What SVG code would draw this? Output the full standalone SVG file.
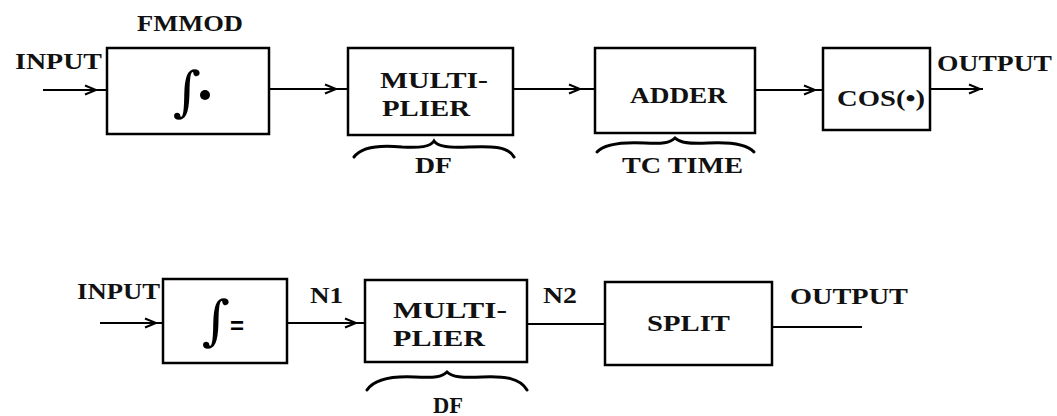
<svg xmlns="http://www.w3.org/2000/svg" width="1057" height="416" viewBox="0 0 1057 416">
<defs>
<marker id="arr" markerUnits="userSpaceOnUse" markerWidth="14" markerHeight="12" refX="12" refY="6" orient="auto">
<path d="M1,1.5 L12,6 L1,10.5" fill="none" stroke="#000" stroke-width="2"/>
</marker>
<style>
.box{fill:#fff;stroke:#000;stroke-width:2.5}
.t{font-family:"Liberation Serif","Times New Roman",serif;font-size:24px;fill:#111;font-weight:bold}
.c{fill:none;stroke:#000;stroke-width:2}
.br{fill:none;stroke:#000;stroke-width:3;stroke-linecap:round}
.ig{font-family:"DejaVu Serif",serif;font-size:54px;fill:#000}
</style>
</defs>
<rect width="1057" height="416" fill="#fff"/>

<g id="connectors">
<path class="c" d="M43,90 H96 H107" marker-mid="url(#arr)"/>
<path class="c" d="M269,89 H336 H348" marker-mid="url(#arr)"/>
<path class="c" d="M513,89 H580 H595" marker-mid="url(#arr)"/>
<path class="c" d="M755,90 H815 H823" marker-mid="url(#arr)"/>
<path class="c" d="M930,89 H980 H983" marker-mid="url(#arr)"/>
<path class="c" d="M100,323 H156 H163" marker-mid="url(#arr)"/>
<path class="c" d="M287,323 H356 H366" marker-mid="url(#arr)"/>
<path class="c" d="M527,324 H605"/>
<path class="c" d="M772,327 H862"/>
</g>

<g id="labels">
<text class="t" x="137" y="31" textLength="106" lengthAdjust="spacingAndGlyphs">FMMOD</text>
<text class="t" x="15" y="69" textLength="87" lengthAdjust="spacingAndGlyphs">INPUT</text>
<text class="t" x="937" y="71" textLength="115" lengthAdjust="spacingAndGlyphs">OUTPUT</text>
<text class="t" x="77" y="299" textLength="83" lengthAdjust="spacingAndGlyphs">INPUT</text>
<text class="t" x="310" y="303" textLength="33" lengthAdjust="spacingAndGlyphs">N1</text>
<text class="t" x="543" y="303" textLength="34" lengthAdjust="spacingAndGlyphs">N2</text>
<text class="t" x="790" y="304" textLength="118" lengthAdjust="spacingAndGlyphs">OUTPUT</text>
</g>

<g id="fmmod">
<rect class="box" x="107" y="48" width="162" height="86"/>
<text class="ig" x="173" y="110">∫</text>
<circle cx="205" cy="95" r="5" fill="#000"/>
</g>

<g id="multiplier1">
<rect class="box" x="348" y="48" width="165" height="87"/>
<text class="t" x="380" y="88" textLength="108" lengthAdjust="spacingAndGlyphs">MULTI-</text>
<text class="t" x="382" y="116" textLength="88" lengthAdjust="spacingAndGlyphs">PLIER</text>
<path class="br" d="M354,157 C362,146 382,145 402,147 C420,148 430,147 434,141 C438,147 450,148 468,147 C490,146 508,146 514,157"/>
<text class="t" x="415" y="173" textLength="37" lengthAdjust="spacingAndGlyphs">DF</text>
</g>

<g id="adder">
<rect class="box" x="595" y="48" width="160" height="85"/>
<text class="t" x="630" y="103" textLength="97" lengthAdjust="spacingAndGlyphs">ADDER</text>
<path class="br" d="M597,152 C605,143 625,142 645,143 C662,144 670,143 675,138 C680,143 690,144 708,143 C728,142 746,143 754,152"/>
<text class="t" x="622" y="173" textLength="121" lengthAdjust="spacingAndGlyphs">TC TIME</text>
</g>

<g id="cos">
<rect class="box" x="823" y="48" width="107" height="82"/>
<text class="t" x="837" y="106" textLength="88" lengthAdjust="spacingAndGlyphs">COS(•)</text>
</g>

<g id="integrator2">
<rect class="box" x="163" y="279" width="124" height="84"/>
<text class="ig" x="202" y="339">∫</text>
<text x="230" y="334" style="font-family:'Liberation Sans',sans-serif;font-size:24px;font-weight:bold;fill:#000">=</text>
</g>

<g id="multiplier2">
<rect class="box" x="365" y="280" width="162" height="82"/>
<text class="t" x="393" y="318" textLength="114" lengthAdjust="spacingAndGlyphs">MULTI-</text>
<text class="t" x="393" y="346" textLength="92" lengthAdjust="spacingAndGlyphs">PLIER</text>
<path class="br" d="M367,390 C375,378 395,376 415,377 C435,378 442,377 447,372 C452,377 462,378 482,377 C505,376 520,378 527,390"/>
<text class="t" x="433" y="413" textLength="30" lengthAdjust="spacingAndGlyphs">DF</text>
</g>

<g id="split">
<rect class="box" x="605" y="282" width="167" height="83"/>
<text class="t" x="647" y="331" textLength="83" lengthAdjust="spacingAndGlyphs">SPLIT</text>
</g>
</svg>
